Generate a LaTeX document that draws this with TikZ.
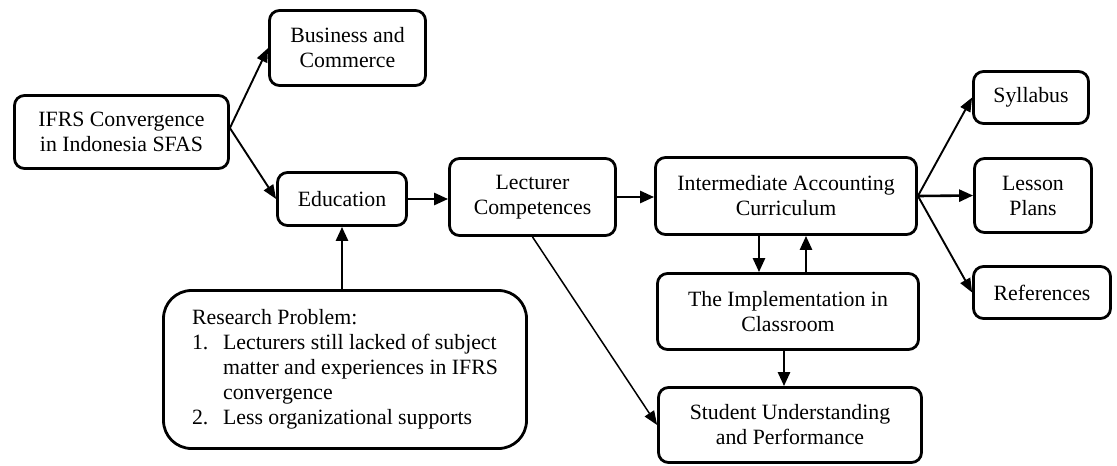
\documentclass[tikz,border=0pt]{standalone}
\usepackage{fontspec}
\setmainfont{Liberation Serif}
\usetikzlibrary{arrows.meta}
\begin{document}
\begin{tikzpicture}[x=1pt,y=-1pt,
  box/.style={draw, line width=2.8pt, rounded corners=10pt, align=center, inner sep=0pt,
    font=\fontsize{21.8}{25}\selectfont},
  arr/.style={line width=2.6pt, -{Triangle[length=14pt,width=12pt]}},
  darr/.style={line width=1.9pt, -{Triangle[length=14pt,width=11pt]}}]
\useasboundingbox (0,0) rectangle (1117,466);
\node[box, minimum width=214pt, minimum height=73pt] (ifrs) at (121.5,132) {IFRS Convergence\\in Indonesia SFAS};
\node[box, minimum width=156pt, minimum height=75pt] (bus) at (347.5,48) {Business and\\Commerce};
\node[box, minimum width=129pt, minimum height=53pt] (edu) at (342,199) {Education};
\node[box, align=left, minimum width=363pt, minimum height=158pt, rounded corners=28pt] (res) at (345,369.5)
  {Research Problem:\\
   \makebox[31pt][l]{1.}Lecturers still lacked of subject\\
   \hspace*{31pt}matter and experiences in IFRS\\
   \hspace*{31pt}convergence\\
   \makebox[31pt][l]{2.}Less organizational supports};
\node[box, minimum width=166pt, minimum height=77pt] (lect) at (532.5,197) {Lecturer\\Competences};
\node[box, minimum width=261pt, minimum height=77pt] (inter) at (786,196) {Intermediate Accounting\\Curriculum};
\node[box, minimum width=261pt, minimum height=76pt] (impl) at (788,311.5) {The Implementation in\\Classroom};
\node[box, minimum width=263pt, minimum height=75pt] (stud) at (790,425) {Student Understanding\\and Performance};
\node[box, minimum width=115pt, minimum height=52pt] (syl) at (1031,97.5) {Syllabus};
\node[box, minimum width=117pt, minimum height=74pt] (les) at (1033,195.5) {Lesson\\Plans};
\node[box, minimum width=137pt, minimum height=52pt] (ref) at (1042,292.5) {References};

\draw[darr] ([yshift=4pt]ifrs.east) -- (bus.west);
\draw[darr] ([yshift=4pt]ifrs.east) -- (edu.west);
\draw[arr] (edu.east) -- (edu.east -| lect.west);
\draw[arr] (edu.south |- res.north) -- (edu.south);
\draw[arr] (lect.east) -- (lect.east -| inter.west);
\draw[darr, line width=1.5pt] (lect.south) -- (stud.west);
\draw[arr] ([xshift=-27pt]inter.south) -- ([xshift=-27pt]inter.south |- impl.north);
\draw[arr] ([xshift=18pt]impl.north) -- ([xshift=18pt]impl.north |- inter.south);
\draw[arr] ([xshift=-4pt]impl.south) -- ([xshift=-4pt]impl.south |- stud.north);
\draw[darr] (inter.east) -- (syl.west);
\draw[arr] (inter.east) -- (les.west);
\draw[darr] (inter.east) -- (ref.west);
\end{tikzpicture}
\end{document}
